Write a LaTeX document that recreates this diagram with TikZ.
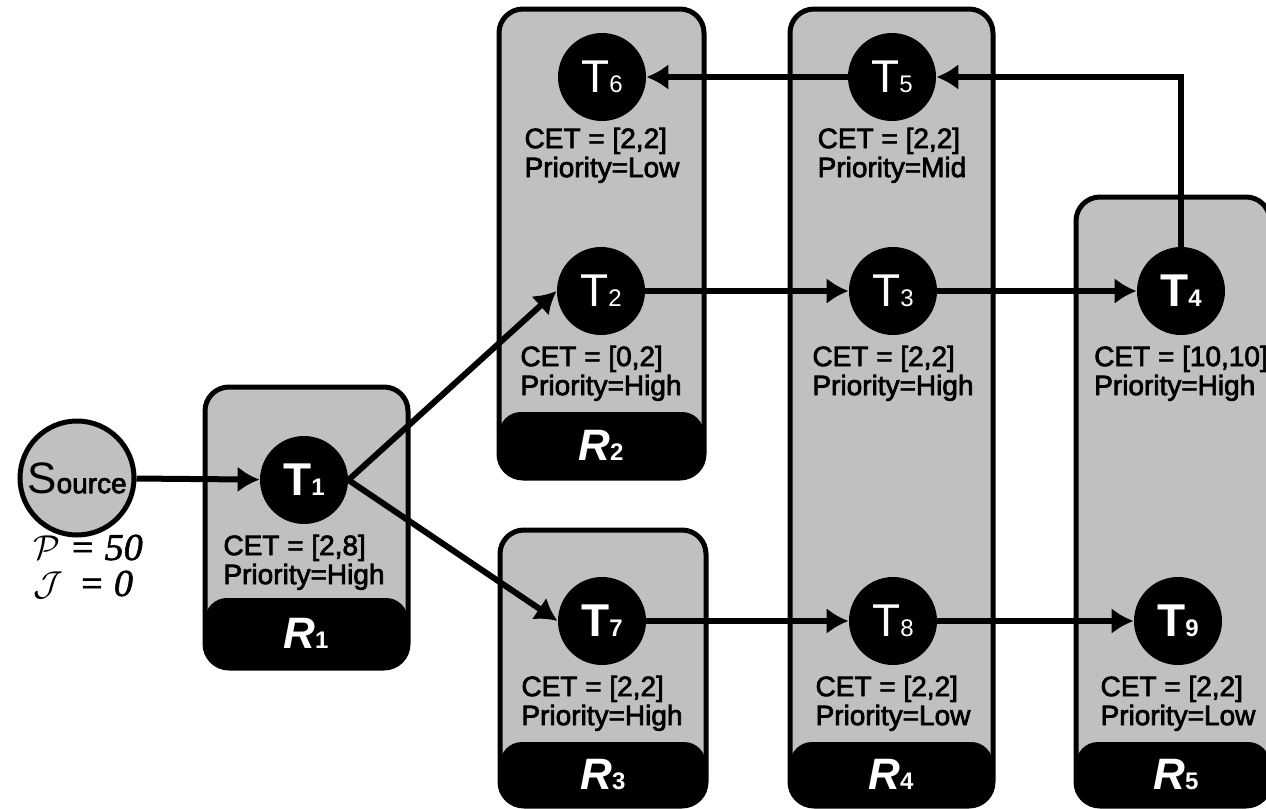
\documentclass[tikz,border=0pt]{standalone}
\usepackage{fontspec}
\setmainfont{Liberation Sans}
\newfontfamily\infofont{Liberation Sans}[FakeBold=2.5]
\newfontfamily\serifit{Liberation Serif}[FakeBold=1.5]
\usepackage{xcolor}
\usetikzlibrary{arrows.meta,positioning}

\definecolor{regiongray}{RGB}{192,192,192}

\tikzset{
  region/.style = {draw=black, fill=regiongray, line width=2.5pt, rounded corners=12pt},
  footer/.style = {fill=black, rounded corners=11pt},
  task/.style   = {circle, fill=black, text=white, minimum size=44pt, inner sep=0pt},
  info/.style   = {align=left, inner sep=0pt, font=\infofont\fontsize{14}{14.5}\selectfont},
  rlabel/.style = {text=white, inner sep=0pt, font=\fontsize{22}{22}\selectfont\bfseries},
  flow/.style   = {line width=3pt, -{Latex[length=11pt,width=13pt]}}
}
\newcommand{\tname}[1]{{\fontsize{23}{23}\selectfont T}{\fontsize{12}{12}\selectfont #1}}
\newcommand{\rname}[1]{\textit{R}{\fontsize{12}{12}\selectfont #1}}

\begin{document}
\begin{tikzpicture}[x=0.5pt, y=-0.5pt]
    \useasboundingbox (0,0) rectangle (1266,809);

    % resources
    \draw[region] (205,387) rectangle (408,668);
    \fill[footer] (205,598) rectangle (408,668);
    \draw[region] (499,9) rectangle (704,478);
    \fill[footer] (499,412) rectangle (704,478);
    \draw[region] (500,530) rectangle (706,806);
    \fill[footer] (500,742) rectangle (706,806);
    \draw[region] (790,9) rectangle (993,806);
    \fill[footer] (790,742) rectangle (993,806);
    \draw[region] (1076,197) rectangle (1270,806);
    \fill[footer] (1076,742) rectangle (1270,806);

    \node[rlabel] (r1) at (306,633) {\rname{1}};
    \node[rlabel] (r2) at (601,445) {\rname{2}};
    \node[rlabel] (r3) at (603,774) {\rname{3}};
    \node[rlabel] (r4) at (891,774) {\rname{4}};
    \node[rlabel] (r5) at (1176,774) {\rname{5}};

    % source
    \node[circle, draw=black, fill=regiongray, line width=2.5pt, minimum size=57pt, inner sep=0pt]
        (src) at (77,478) {{\fontsize{22}{22}\selectfont S}{\infofont\fontsize{14}{14}\selectfont ource}};
    \node[align=left, inner sep=0pt, font=\serifit\itshape\fontsize{19}{18}\selectfont]
        (pj) at (88,567) {$\mathcal{P}$ = 50\\$\mathcal{J}$\, = 0};

    % tasks
    \node[task] (t1) at (304,480) {\textbf{\tname{1}}};
    \node[task] (t2) at (601,291) {\tname{2}};
    \node[task] (t3) at (893,291) {\tname{3}};
    \node[task] (t4) at (1181,291) {\textbf{\tname{4}}};
    \node[task] (t5) at (892,77) {\tname{5}};
    \node[task] (t6) at (602,77) {\tname{6}};
    \node[task] (t7) at (602,621) {\textbf{\tname{7}}};
    \node[task] (t8) at (893,621) {\tname{8}};
    \node[task] (t9) at (1178,621) {\textbf{\tname{9}}};

    \node[info, below=5pt of t1] (i1) {CET = [2,8]\\Priority=High};
    \node[info, below=5pt of t2] (i2) {CET = [0,2]\\Priority=High};
    \node[info, below=5pt of t3] (i3) {CET = [2,2]\\Priority=High};
    \node[info, below=5pt of t4] (i4) {CET = [10,10]\\Priority=High};
    \node[info, below=3pt of t5] (i5) {CET = [2,2]\\Priority=Mid};
    \node[info, below=3pt of t6] (i6) {CET = [2,2]\\Priority=Low};
    \node[info, below=5pt of t7] (i7) {CET = [2,2]\\Priority=High};
    \node[info, below=5pt of t8] (i8) {CET = [2,2]\\Priority=Low};
    \node[info, below=5pt of t9] (i9) {CET = [2,2]\\Priority=Low};

    % precedence
    \draw[flow] (src) -- (t1);
    \draw[flow] (t1.east) -- (t2.west);
    \draw[flow] (t1.east) -- (t7.west);
    \draw[flow] (t2) -- (t3);
    \draw[flow] (t3) -- (t4);
    \draw[flow] (t7) -- (t8);
    \draw[flow] (t8) -- (t9);
    \draw[flow] (t4.north) |- (t5.east);
    \draw[flow] (t5) -- (t6);
\end{tikzpicture}
\end{document}
